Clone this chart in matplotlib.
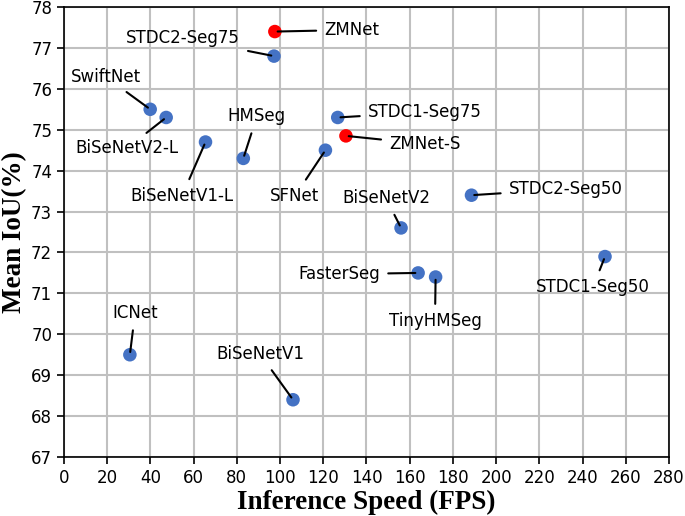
import matplotlib
matplotlib.use("Agg")
import matplotlib.pyplot as plt

# model name, FPS, mIoU
names = ["ZMNet", "STDC2-Seg75", "SwiftNet", "BiSeNetV2-L", "BiSeNetV1-L",
         "HMSeg", "SFNet", "STDC1-Seg75", "ZMNet-S", "STDC2-Seg50",
         "BiSeNetV2", "FasterSeg", "TinyHMSeg", "STDC1-Seg50", "ICNet",
         "BiSeNetV1"]
fps = [97.6, 97.2, 39.9, 47.3, 65.5, 83.0, 121.0, 126.7, 130.5, 188.6,
       156.0, 163.9, 172.0, 250.4, 30.5, 106.0]
miou = [77.4, 76.8, 75.5, 75.3, 74.7, 74.3, 74.5, 75.3, 74.85, 73.4,
        72.6, 71.5, 71.4, 71.9, 69.5, 68.4]
ours = ["ZMNet", "ZMNet-S"]

# where each label text sits (data coords)
label_pos = {
    "ZMNet": (133.3, 77.44),
    "STDC2-Seg75": (55.1, 77.24),
    "SwiftNet": (19.4, 76.29),
    "BiSeNetV2-L": (29.2, 74.55),
    "BiSeNetV1-L": (54.6, 73.38),
    "HMSeg": (89.3, 75.33),
    "SFNet": (106.9, 73.38),
    "STDC1-Seg75": (167.1, 75.43),
    "ZMNet-S": (167.1, 74.65),
    "STDC2-Seg50": (232.3, 73.55),
    "BiSeNetV2": (149.0, 73.33),
    "FasterSeg": (127.3, 71.47),
    "TinyHMSeg": (171.7, 70.32),
    "STDC1-Seg50": (244.8, 71.15),
    "ICNet": (32.9, 70.52),
    "BiSeNetV1": (90.7, 69.52),
}

fig = plt.figure(figsize=(6.85, 5.16), dpi=100)
ax = fig.add_axes([0.0934, 0.1143, 0.8832, 0.8721])

colors = ["#ff0000" if n in ours else "#4472c4" for n in names]
ax.scatter(fps, miou, s=95, c=colors, zorder=3, edgecolors="none")

for n, x, y in zip(names, fps, miou):
    tx, ty = label_pos[n]
    ax.annotate(n, xy=(x, y), xytext=(tx, ty), ha="center", va="center",
                fontsize=12,
                arrowprops=dict(arrowstyle="-", color="black", lw=1.5,
                                shrinkA=4, shrinkB=2))

ax.set_xlim(0, 280)
ax.set_ylim(67, 78)
ax.set_xticks(range(0, 281, 20))
ax.set_yticks(range(67, 79))
ax.tick_params(labelsize=12, length=5, width=1.2)
ax.grid(True, color="#c0c0c0", lw=1.5)
ax.set_axisbelow(True)
for sp in ax.spines.values():
    sp.set_linewidth(1.2)

ax.set_xlabel("Inference Speed (FPS)", fontsize=19.5, fontweight="bold",
              family="Liberation Serif", labelpad=2)
ax.set_ylabel("Mean IoU(%)", fontsize=19.5, fontweight="bold",
              family="Liberation Serif", labelpad=3)

fig.savefig("out.png", dpi=100)
